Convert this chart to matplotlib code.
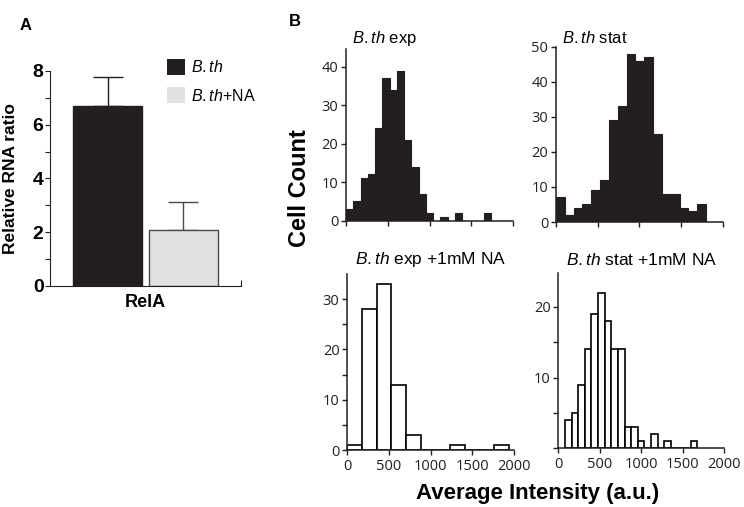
import matplotlib
matplotlib.use("agg")
import matplotlib.pyplot as plt
import numpy as np
from matplotlib.patches import Patch

plt.rcParams["font.family"] = ["Liberation Sans", "DejaVu Sans"]
plt.rcParams["mathtext.fontset"] = "custom"
plt.rcParams["mathtext.rm"] = "Liberation Sans"
plt.rcParams["mathtext.it"] = "Liberation Sans:italic"

INK = "#231f20"

# Panel A: relative RNA ratio for RelA
rna_labels = ["$\\mathit{B.th}$", "$\\mathit{B.th}$+NA"]
rna_values = [6.7, 2.1]
rna_err = [1.07, 1.02]

# Panel B: histograms of average intensity (bin start, bin width, counts)
exp_start, exp_width = 0, 87
exp_counts = [3, 5, 11, 12, 24, 37, 34, 39, 21, 14, 7, 2, 0, 1, 0, 2, 0, 0, 0, 2, 0, 0, 0]

stat_start, stat_width = 0, 106
stat_counts = [7, 2, 4, 5, 9, 12, 29, 33, 48, 46, 47, 25, 8, 8, 4, 3, 5, 0, 0]

exp_na_start, exp_na_width = 0, 176
exp_na_counts = [1, 28, 33, 13, 3, 0, 0, 1, 0, 0, 1]

stat_na_start, stat_na_width = 80, 80
stat_na_counts = [4, 5, 9, 14, 19, 22, 18, 14, 14, 3, 3, 1, 0, 2, 0, 1, 0, 0, 0, 1]

x_ticks = [0, 500, 1000, 1500, 2000]

fig = plt.figure(figsize=(7.44, 5.07), dpi=100)

# ---------------- panel A ----------------
axA = fig.add_axes([0.0672, 0.4359, 0.2567, 0.4241])
colors = [INK, "#e0e1e3"]
edges = [INK, "#4a4a4a"]
pos = np.arange(len(rna_values))
for i in range(len(rna_values)):
    axA.bar(pos[i], rna_values[i], width=0.908, color=colors[i],
            edgecolor=edges[i], linewidth=1.0, zorder=2)
    axA.errorbar(pos[i], rna_values[i], yerr=[[0], [rna_err[i]]],
                 ecolor=edges[i], elinewidth=1.0, capsize=10.5,
                 capthick=1.0, fmt="none", zorder=1)
axA.set_xlim(-0.757, 1.757)
axA.set_ylim(0, 8)
axA.spines["top"].set_visible(False)
axA.spines["right"].set_visible(False)
for s in ["left", "bottom"]:
    axA.spines[s].set_color(INK)
    axA.spines[s].set_linewidth(0.8)
axA.set_yticks([0, 2, 4, 6, 8])
axA.set_yticks([1, 3, 5, 7], minor=True)
axA.tick_params(axis="y", which="both", length=3.6, width=0.8, color=INK,
                pad=1, labelsize=14)
for t in axA.get_yticklabels():
    t.set_fontweight("bold")
axA.set_xticks([0.5])
axA.set_xticklabels(["RelA"], fontsize=13, fontweight="bold")
axA.tick_params(axis="x", which="major", length=0, pad=6)
axA.set_xticks([1.757], minor=True)
axA.tick_params(axis="x", which="minor", direction="in", length=4, width=0.8,
                color=INK)
axA.set_ylabel("Relative RNA ratio", fontsize=12.5, fontweight="bold")
axA.yaxis.set_label_coords(-0.165, 0.5)
handles = [Patch(facecolor=colors[i], edgecolor="none") for i in range(2)]
fig.legend(handles, rna_labels, loc="upper left",
           bbox_to_anchor=(167 / 744, 1 - 59 / 507), frameon=False,
           fontsize=11.5, handlelength=1.1, handleheight=1.15,
           handletextpad=0.4, labelspacing=0.75, borderpad=0,
           borderaxespad=0)
fig.text(20 / 744, 1 - 26 / 507, "A", fontsize=12, fontweight="bold",
         va="center", ha="left")

# ---------------- panel B ----------------
def hist_panel(rect, start, width, counts, ylim, yticks, minor, fill, title,
               title_left, xlabels, ylabels):
    ax = fig.add_axes(rect)
    lefts = start + width * np.arange(len(counts))
    if fill:
        ax.bar(lefts, counts, width=width, align="edge", color=INK,
               edgecolor=INK, linewidth=0.8)
    else:
        ax.bar(lefts, counts, width=width, align="edge", color="white",
               edgecolor="black", linewidth=1.2)
    ax.set_xlim(0, 2000)
    ax.set_ylim(*ylim)
    ax.spines["top"].set_visible(False)
    ax.spines["right"].set_visible(False)
    for s in ["left", "bottom"]:
        ax.spines[s].set_color(INK)
        ax.spines[s].set_linewidth(1.1)
    ax.set_xticks(x_ticks)
    ax.set_yticks(yticks)
    if minor:
        ax.set_yticks(minor, minor=True)
    ax.tick_params(which="both", length=3.6, width=1.0, color=INK,
                   labelcolor=INK, labelsize=10.5, pad=2)
    ax.tick_params(axis="x", pad=3)
    if xlabels:
        ax.set_xticklabels([str(v) for v in x_ticks], family="Open Sans")
    else:
        ax.set_xticklabels([])
    ax.set_yticklabels(ylabels, family="Open Sans")
    if title_left:
        ax.text(0.035, 1.005, title, transform=ax.transAxes, fontsize=12,
                ha="left", va="bottom")
    else:
        ax.text(0.5, 1.03, title, transform=ax.transAxes, fontsize=12.5,
                ha="center", va="bottom")
    return ax


hist_panel([0.4651, 0.5647, 0.2245, 0.3387], exp_start, exp_width, exp_counts,
           (0, 44.6), [0, 10, 20, 30, 40], None, True,
           "$\\mathit{B.th}$ exp", True, False, ["0", "10", "20", "30", "40"])
hist_panel([0.7473, 0.5621, 0.2240, 0.3458], stat_start, stat_width,
           stat_counts, (0, 50), [0, 10, 20, 30, 40, 50], None, True,
           "$\\mathit{B.th}$ stat", True, False,
           ["0", "10", "20", "30", "40", "50"])
hist_panel([0.4668, 0.1124, 0.2241, 0.3471], exp_na_start, exp_na_width,
           exp_na_counts, (0, 35), [0, 10, 20, 30], [5, 15, 25], False,
           "$\\mathit{B.th}$ exp +1mM NA", False, True,
           ["0", "10", "20", "30"])
hist_panel([0.7504, 0.1158, 0.2227, 0.3458], stat_na_start, stat_na_width,
           stat_na_counts, (0, 24.8), [0, 10, 20], [5, 15], False,
           "$\\mathit{B.th}$ stat +1mM NA", False, True, ["", "10", "20"])

fig.text(300 / 744, 1 - 188 / 507, "Cell Count", rotation=90, fontsize=17,
         fontweight="bold", ha="center", va="center")
fig.text(538 / 744, 1 - 494 / 507, "Average Intensity (a.u.)", fontsize=16,
         fontweight="bold", ha="center", va="center")
fig.text(289 / 744, 1 - 21 / 507, "B", fontsize=12, fontweight="bold",
         ha="left", va="center")

fig.savefig("out.png", dpi=100)
